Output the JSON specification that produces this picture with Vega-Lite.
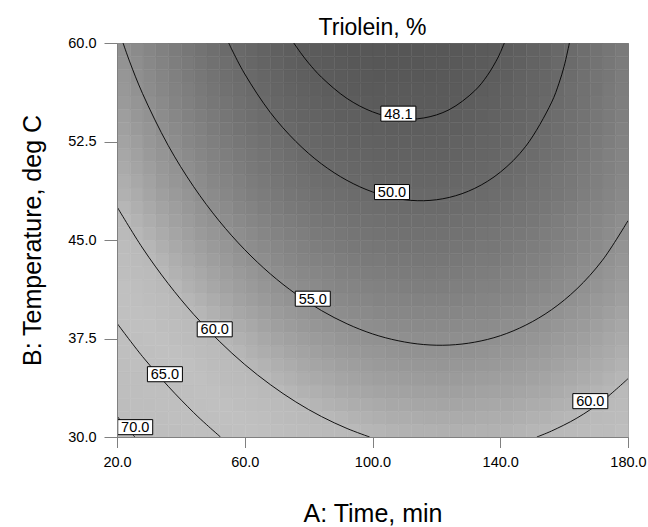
{
"$schema": "https://vega.github.io/schema/vega-lite/v6.json",
"width": 511, "height": 394,
"autosize": "none",
"padding": {"left": 117, "top": 43, "right": 20, "bottom": 90},
"background": "white",
"title": {"text": "Triolein, %", "font": "Liberation Sans", "fontSize": 23, "fontWeight": "normal", "color": "black", "anchor": "middle", "offset": -5},
"config": {
  "view": {"stroke": "#808080", "strokeWidth": 1},
  "axis": {"grid": false, "domainColor": "#808080", "tickColor": "#808080", "labelColor": "black", "labelFont": "Liberation Sans", "labelFontSize": 14.5, "titleFont": "Liberation Sans", "titleFontSize": 25, "titleFontWeight": "normal", "titleColor": "black", "format": ".1f", "labelPadding": 8, "labelFlush": false, "labelOverlap": false}
},
"datasets": {
"grid": [
{"A":20,"B":30,"v":70.4},{"A":24,"B":30,"v":69.5},{"A":28,"B":30,"v":68.7},{"A":32,"B":30,"v":67.9},{"A":36,"B":30,"v":67.1},{"A":40,"B":30,"v":66.4},{"A":44,"B":30,"v":65.7},{"A":48,"B":30,"v":65.0},{"A":52,"B":30,"v":64.4},{"A":56,"B":30,"v":63.8},{"A":60,"B":30,"v":63.2},{"A":64,"B":30,"v":62.7},{"A":68,"B":30,"v":62.2},{"A":72,"B":30,"v":61.7},{"A":76,"B":30,"v":61.3},{"A":80,"B":30,"v":60.9},{"A":84,"B":30,"v":60.6},{"A":88,"B":30,"v":60.3},{"A":92,"B":30,"v":60.0},{"A":96,"B":30,"v":59.7},{"A":100,"B":30,"v":59.5},{"A":104,"B":30,"v":59.3},{"A":108,"B":30,"v":59.2},{"A":112,"B":30,"v":59.1},{"A":116,"B":30,"v":59.0},{"A":120,"B":30,"v":58.9},{"A":124,"B":30,"v":58.9},{"A":128,"B":30,"v":59.0},{"A":132,"B":30,"v":59.0},{"A":136,"B":30,"v":59.1},{"A":140,"B":30,"v":59.2},{"A":144,"B":30,"v":59.4},{"A":148,"B":30,"v":59.6},{"A":152,"B":30,"v":59.8},{"A":156,"B":30,"v":60.1},{"A":160,"B":30,"v":60.4},{"A":164,"B":30,"v":60.7},{"A":168,"B":30,"v":61.1},{"A":172,"B":30,"v":61.5},{"A":176,"B":30,"v":62.0},
{"A":20,"B":31,"v":69.6},{"A":24,"B":31,"v":68.8},{"A":28,"B":31,"v":67.9},{"A":32,"B":31,"v":67.1},{"A":36,"B":31,"v":66.4},{"A":40,"B":31,"v":65.6},{"A":44,"B":31,"v":64.9},{"A":48,"B":31,"v":64.3},{"A":52,"B":31,"v":63.6},{"A":56,"B":31,"v":63.0},{"A":60,"B":31,"v":62.5},{"A":64,"B":31,"v":62.0},{"A":68,"B":31,"v":61.5},{"A":72,"B":31,"v":61.0},{"A":76,"B":31,"v":60.6},{"A":80,"B":31,"v":60.2},{"A":84,"B":31,"v":59.9},{"A":88,"B":31,"v":59.6},{"A":92,"B":31,"v":59.3},{"A":96,"B":31,"v":59.0},{"A":100,"B":31,"v":58.8},{"A":104,"B":31,"v":58.6},{"A":108,"B":31,"v":58.5},{"A":112,"B":31,"v":58.4},{"A":116,"B":31,"v":58.3},{"A":120,"B":31,"v":58.3},{"A":124,"B":31,"v":58.3},{"A":128,"B":31,"v":58.3},{"A":132,"B":31,"v":58.4},{"A":136,"B":31,"v":58.5},{"A":140,"B":31,"v":58.6},{"A":144,"B":31,"v":58.8},{"A":148,"B":31,"v":59.0},{"A":152,"B":31,"v":59.2},{"A":156,"B":31,"v":59.5},{"A":160,"B":31,"v":59.8},{"A":164,"B":31,"v":60.1},{"A":168,"B":31,"v":60.5},{"A":172,"B":31,"v":60.9},{"A":176,"B":31,"v":61.4},
{"A":20,"B":32,"v":68.9},{"A":24,"B":32,"v":68.0},{"A":28,"B":32,"v":67.2},{"A":32,"B":32,"v":66.4},{"A":36,"B":32,"v":65.6},{"A":40,"B":32,"v":64.9},{"A":44,"B":32,"v":64.2},{"A":48,"B":32,"v":63.5},{"A":52,"B":32,"v":62.9},{"A":56,"B":32,"v":62.3},{"A":60,"B":32,"v":61.8},{"A":64,"B":32,"v":61.3},{"A":68,"B":32,"v":60.8},{"A":72,"B":32,"v":60.3},{"A":76,"B":32,"v":59.9},{"A":80,"B":32,"v":59.5},{"A":84,"B":32,"v":59.2},{"A":88,"B":32,"v":58.9},{"A":92,"B":32,"v":58.6},{"A":96,"B":32,"v":58.4},{"A":100,"B":32,"v":58.2},{"A":104,"B":32,"v":58.0},{"A":108,"B":32,"v":57.9},{"A":112,"B":32,"v":57.7},{"A":116,"B":32,"v":57.7},{"A":120,"B":32,"v":57.6},{"A":124,"B":32,"v":57.6},{"A":128,"B":32,"v":57.7},{"A":132,"B":32,"v":57.8},{"A":136,"B":32,"v":57.9},{"A":140,"B":32,"v":58.0},{"A":144,"B":32,"v":58.2},{"A":148,"B":32,"v":58.4},{"A":152,"B":32,"v":58.6},{"A":156,"B":32,"v":58.9},{"A":160,"B":32,"v":59.2},{"A":164,"B":32,"v":59.6},{"A":168,"B":32,"v":59.9},{"A":172,"B":32,"v":60.4},{"A":176,"B":32,"v":60.8},
{"A":20,"B":33,"v":68.1},{"A":24,"B":33,"v":67.3},{"A":28,"B":33,"v":66.4},{"A":32,"B":33,"v":65.7},{"A":36,"B":33,"v":64.9},{"A":40,"B":33,"v":64.2},{"A":44,"B":33,"v":63.5},{"A":48,"B":33,"v":62.8},{"A":52,"B":33,"v":62.2},{"A":56,"B":33,"v":61.6},{"A":60,"B":33,"v":61.1},{"A":64,"B":33,"v":60.6},{"A":68,"B":33,"v":60.1},{"A":72,"B":33,"v":59.7},{"A":76,"B":33,"v":59.2},{"A":80,"B":33,"v":58.9},{"A":84,"B":33,"v":58.5},{"A":88,"B":33,"v":58.2},{"A":92,"B":33,"v":58.0},{"A":96,"B":33,"v":57.7},{"A":100,"B":33,"v":57.5},{"A":104,"B":33,"v":57.4},{"A":108,"B":33,"v":57.2},{"A":112,"B":33,"v":57.1},{"A":116,"B":33,"v":57.1},{"A":120,"B":33,"v":57.0},{"A":124,"B":33,"v":57.0},{"A":128,"B":33,"v":57.1},{"A":132,"B":33,"v":57.2},{"A":136,"B":33,"v":57.3},{"A":140,"B":33,"v":57.4},{"A":144,"B":33,"v":57.6},{"A":148,"B":33,"v":57.8},{"A":152,"B":33,"v":58.0},{"A":156,"B":33,"v":58.3},{"A":160,"B":33,"v":58.7},{"A":164,"B":33,"v":59.0},{"A":168,"B":33,"v":59.4},{"A":172,"B":33,"v":59.8},{"A":176,"B":33,"v":60.3},
{"A":20,"B":34,"v":67.4},{"A":24,"B":34,"v":66.5},{"A":28,"B":34,"v":65.7},{"A":32,"B":34,"v":64.9},{"A":36,"B":34,"v":64.2},{"A":40,"B":34,"v":63.5},{"A":44,"B":34,"v":62.8},{"A":48,"B":34,"v":62.1},{"A":52,"B":34,"v":61.5},{"A":56,"B":34,"v":61.0},{"A":60,"B":34,"v":60.4},{"A":64,"B":34,"v":59.9},{"A":68,"B":34,"v":59.4},{"A":72,"B":34,"v":59.0},{"A":76,"B":34,"v":58.6},{"A":80,"B":34,"v":58.2},{"A":84,"B":34,"v":57.9},{"A":88,"B":34,"v":57.6},{"A":92,"B":34,"v":57.3},{"A":96,"B":34,"v":57.1},{"A":100,"B":34,"v":56.9},{"A":104,"B":34,"v":56.7},{"A":108,"B":34,"v":56.6},{"A":112,"B":34,"v":56.5},{"A":116,"B":34,"v":56.4},{"A":120,"B":34,"v":56.4},{"A":124,"B":34,"v":56.4},{"A":128,"B":34,"v":56.5},{"A":132,"B":34,"v":56.6},{"A":136,"B":34,"v":56.7},{"A":140,"B":34,"v":56.8},{"A":144,"B":34,"v":57.0},{"A":148,"B":34,"v":57.2},{"A":152,"B":34,"v":57.5},{"A":156,"B":34,"v":57.8},{"A":160,"B":34,"v":58.1},{"A":164,"B":34,"v":58.4},{"A":168,"B":34,"v":58.8},{"A":172,"B":34,"v":59.3},{"A":176,"B":34,"v":59.7},
{"A":20,"B":35,"v":66.7},{"A":24,"B":35,"v":65.8},{"A":28,"B":35,"v":65.0},{"A":32,"B":35,"v":64.2},{"A":36,"B":35,"v":63.5},{"A":40,"B":35,"v":62.8},{"A":44,"B":35,"v":62.1},{"A":48,"B":35,"v":61.5},{"A":52,"B":35,"v":60.9},{"A":56,"B":35,"v":60.3},{"A":60,"B":35,"v":59.8},{"A":64,"B":35,"v":59.3},{"A":68,"B":35,"v":58.8},{"A":72,"B":35,"v":58.4},{"A":76,"B":35,"v":58.0},{"A":80,"B":35,"v":57.6},{"A":84,"B":35,"v":57.3},{"A":88,"B":35,"v":57.0},{"A":92,"B":35,"v":56.7},{"A":96,"B":35,"v":56.5},{"A":100,"B":35,"v":56.3},{"A":104,"B":35,"v":56.1},{"A":108,"B":35,"v":56.0},{"A":112,"B":35,"v":55.9},{"A":116,"B":35,"v":55.9},{"A":120,"B":35,"v":55.8},{"A":124,"B":35,"v":55.9},{"A":128,"B":35,"v":55.9},{"A":132,"B":35,"v":56.0},{"A":136,"B":35,"v":56.1},{"A":140,"B":35,"v":56.3},{"A":144,"B":35,"v":56.5},{"A":148,"B":35,"v":56.7},{"A":152,"B":35,"v":56.9},{"A":156,"B":35,"v":57.2},{"A":160,"B":35,"v":57.6},{"A":164,"B":35,"v":57.9},{"A":168,"B":35,"v":58.3},{"A":172,"B":35,"v":58.7},{"A":176,"B":35,"v":59.2},
{"A":20,"B":36,"v":66.0},{"A":24,"B":36,"v":65.2},{"A":28,"B":36,"v":64.4},{"A":32,"B":36,"v":63.6},{"A":36,"B":36,"v":62.8},{"A":40,"B":36,"v":62.1},{"A":44,"B":36,"v":61.5},{"A":48,"B":36,"v":60.8},{"A":52,"B":36,"v":60.2},{"A":56,"B":36,"v":59.7},{"A":60,"B":36,"v":59.1},{"A":64,"B":36,"v":58.6},{"A":68,"B":36,"v":58.2},{"A":72,"B":36,"v":57.7},{"A":76,"B":36,"v":57.3},{"A":80,"B":36,"v":57.0},{"A":84,"B":36,"v":56.6},{"A":88,"B":36,"v":56.4},{"A":92,"B":36,"v":56.1},{"A":96,"B":36,"v":55.9},{"A":100,"B":36,"v":55.7},{"A":104,"B":36,"v":55.5},{"A":108,"B":36,"v":55.4},{"A":112,"B":36,"v":55.3},{"A":116,"B":36,"v":55.3},{"A":120,"B":36,"v":55.3},{"A":124,"B":36,"v":55.3},{"A":128,"B":36,"v":55.3},{"A":132,"B":36,"v":55.4},{"A":136,"B":36,"v":55.6},{"A":140,"B":36,"v":55.7},{"A":144,"B":36,"v":55.9},{"A":148,"B":36,"v":56.1},{"A":152,"B":36,"v":56.4},{"A":156,"B":36,"v":56.7},{"A":160,"B":36,"v":57.0},{"A":164,"B":36,"v":57.4},{"A":168,"B":36,"v":57.8},{"A":172,"B":36,"v":58.2},{"A":176,"B":36,"v":58.7},
{"A":20,"B":37,"v":65.3},{"A":24,"B":37,"v":64.5},{"A":28,"B":37,"v":63.7},{"A":32,"B":37,"v":62.9},{"A":36,"B":37,"v":62.2},{"A":40,"B":37,"v":61.5},{"A":44,"B":37,"v":60.8},{"A":48,"B":37,"v":60.2},{"A":52,"B":37,"v":59.6},{"A":56,"B":37,"v":59.0},{"A":60,"B":37,"v":58.5},{"A":64,"B":37,"v":58.0},{"A":68,"B":37,"v":57.5},{"A":72,"B":37,"v":57.1},{"A":76,"B":37,"v":56.7},{"A":80,"B":37,"v":56.4},{"A":84,"B":37,"v":56.1},{"A":88,"B":37,"v":55.8},{"A":92,"B":37,"v":55.5},{"A":96,"B":37,"v":55.3},{"A":100,"B":37,"v":55.1},{"A":104,"B":37,"v":55.0},{"A":108,"B":37,"v":54.9},{"A":112,"B":37,"v":54.8},{"A":116,"B":37,"v":54.7},{"A":120,"B":37,"v":54.7},{"A":124,"B":37,"v":54.8},{"A":128,"B":37,"v":54.8},{"A":132,"B":37,"v":54.9},{"A":136,"B":37,"v":55.0},{"A":140,"B":37,"v":55.2},{"A":144,"B":37,"v":55.4},{"A":148,"B":37,"v":55.6},{"A":152,"B":37,"v":55.9},{"A":156,"B":37,"v":56.2},{"A":160,"B":37,"v":56.5},{"A":164,"B":37,"v":56.9},{"A":168,"B":37,"v":57.3},{"A":172,"B":37,"v":57.8},{"A":176,"B":37,"v":58.2},
{"A":20,"B":38,"v":64.7},{"A":24,"B":38,"v":63.8},{"A":28,"B":38,"v":63.1},{"A":32,"B":38,"v":62.3},{"A":36,"B":38,"v":61.6},{"A":40,"B":38,"v":60.9},{"A":44,"B":38,"v":60.2},{"A":48,"B":38,"v":59.6},{"A":52,"B":38,"v":59.0},{"A":56,"B":38,"v":58.4},{"A":60,"B":38,"v":57.9},{"A":64,"B":38,"v":57.4},{"A":68,"B":38,"v":56.9},{"A":72,"B":38,"v":56.5},{"A":76,"B":38,"v":56.1},{"A":80,"B":38,"v":55.8},{"A":84,"B":38,"v":55.5},{"A":88,"B":38,"v":55.2},{"A":92,"B":38,"v":55.0},{"A":96,"B":38,"v":54.7},{"A":100,"B":38,"v":54.6},{"A":104,"B":38,"v":54.4},{"A":108,"B":38,"v":54.3},{"A":112,"B":38,"v":54.2},{"A":116,"B":38,"v":54.2},{"A":120,"B":38,"v":54.2},{"A":124,"B":38,"v":54.2},{"A":128,"B":38,"v":54.3},{"A":132,"B":38,"v":54.4},{"A":136,"B":38,"v":54.5},{"A":140,"B":38,"v":54.7},{"A":144,"B":38,"v":54.9},{"A":148,"B":38,"v":55.1},{"A":152,"B":38,"v":55.4},{"A":156,"B":38,"v":55.7},{"A":160,"B":38,"v":56.1},{"A":164,"B":38,"v":56.4},{"A":168,"B":38,"v":56.9},{"A":172,"B":38,"v":57.3},{"A":176,"B":38,"v":57.8},
{"A":20,"B":39,"v":64.0},{"A":24,"B":39,"v":63.2},{"A":28,"B":39,"v":62.4},{"A":32,"B":39,"v":61.7},{"A":36,"B":39,"v":60.9},{"A":40,"B":39,"v":60.2},{"A":44,"B":39,"v":59.6},{"A":48,"B":39,"v":59.0},{"A":52,"B":39,"v":58.4},{"A":56,"B":39,"v":57.8},{"A":60,"B":39,"v":57.3},{"A":64,"B":39,"v":56.8},{"A":68,"B":39,"v":56.4},{"A":72,"B":39,"v":56.0},{"A":76,"B":39,"v":55.6},{"A":80,"B":39,"v":55.2},{"A":84,"B":39,"v":54.9},{"A":88,"B":39,"v":54.6},{"A":92,"B":39,"v":54.4},{"A":96,"B":39,"v":54.2},{"A":100,"B":39,"v":54.0},{"A":104,"B":39,"v":53.9},{"A":108,"B":39,"v":53.8},{"A":112,"B":39,"v":53.7},{"A":116,"B":39,"v":53.7},{"A":120,"B":39,"v":53.7},{"A":124,"B":39,"v":53.7},{"A":128,"B":39,"v":53.8},{"A":132,"B":39,"v":53.9},{"A":136,"B":39,"v":54.0},{"A":140,"B":39,"v":54.2},{"A":144,"B":39,"v":54.4},{"A":148,"B":39,"v":54.7},{"A":152,"B":39,"v":54.9},{"A":156,"B":39,"v":55.3},{"A":160,"B":39,"v":55.6},{"A":164,"B":39,"v":56.0},{"A":168,"B":39,"v":56.4},{"A":172,"B":39,"v":56.8},{"A":176,"B":39,"v":57.3},
{"A":20,"B":40,"v":63.4},{"A":24,"B":40,"v":62.6},{"A":28,"B":40,"v":61.8},{"A":32,"B":40,"v":61.1},{"A":36,"B":40,"v":60.3},{"A":40,"B":40,"v":59.6},{"A":44,"B":40,"v":59.0},{"A":48,"B":40,"v":58.4},{"A":52,"B":40,"v":57.8},{"A":56,"B":40,"v":57.2},{"A":60,"B":40,"v":56.7},{"A":64,"B":40,"v":56.3},{"A":68,"B":40,"v":55.8},{"A":72,"B":40,"v":55.4},{"A":76,"B":40,"v":55.0},{"A":80,"B":40,"v":54.7},{"A":84,"B":40,"v":54.4},{"A":88,"B":40,"v":54.1},{"A":92,"B":40,"v":53.9},{"A":96,"B":40,"v":53.7},{"A":100,"B":40,"v":53.5},{"A":104,"B":40,"v":53.4},{"A":108,"B":40,"v":53.3},{"A":112,"B":40,"v":53.2},{"A":116,"B":40,"v":53.2},{"A":120,"B":40,"v":53.2},{"A":124,"B":40,"v":53.2},{"A":128,"B":40,"v":53.3},{"A":132,"B":40,"v":53.4},{"A":136,"B":40,"v":53.6},{"A":140,"B":40,"v":53.7},{"A":144,"B":40,"v":53.9},{"A":148,"B":40,"v":54.2},{"A":152,"B":40,"v":54.5},{"A":156,"B":40,"v":54.8},{"A":160,"B":40,"v":55.1},{"A":164,"B":40,"v":55.5},{"A":168,"B":40,"v":56.0},{"A":172,"B":40,"v":56.4},{"A":176,"B":40,"v":56.9},
{"A":20,"B":41,"v":62.8},{"A":24,"B":41,"v":62.0},{"A":28,"B":41,"v":61.2},{"A":32,"B":41,"v":60.5},{"A":36,"B":41,"v":59.8},{"A":40,"B":41,"v":59.1},{"A":44,"B":41,"v":58.4},{"A":48,"B":41,"v":57.8},{"A":52,"B":41,"v":57.2},{"A":56,"B":41,"v":56.7},{"A":60,"B":41,"v":56.2},{"A":64,"B":41,"v":55.7},{"A":68,"B":41,"v":55.3},{"A":72,"B":41,"v":54.9},{"A":76,"B":41,"v":54.5},{"A":80,"B":41,"v":54.2},{"A":84,"B":41,"v":53.9},{"A":88,"B":41,"v":53.6},{"A":92,"B":41,"v":53.4},{"A":96,"B":41,"v":53.2},{"A":100,"B":41,"v":53.0},{"A":104,"B":41,"v":52.9},{"A":108,"B":41,"v":52.8},{"A":112,"B":41,"v":52.7},{"A":116,"B":41,"v":52.7},{"A":120,"B":41,"v":52.7},{"A":124,"B":41,"v":52.8},{"A":128,"B":41,"v":52.8},{"A":132,"B":41,"v":53.0},{"A":136,"B":41,"v":53.1},{"A":140,"B":41,"v":53.3},{"A":144,"B":41,"v":53.5},{"A":148,"B":41,"v":53.8},{"A":152,"B":41,"v":54.0},{"A":156,"B":41,"v":54.4},{"A":160,"B":41,"v":54.7},{"A":164,"B":41,"v":55.1},{"A":168,"B":41,"v":55.5},{"A":172,"B":41,"v":56.0},{"A":176,"B":41,"v":56.5},
{"A":20,"B":42,"v":62.2},{"A":24,"B":42,"v":61.4},{"A":28,"B":42,"v":60.7},{"A":32,"B":42,"v":59.9},{"A":36,"B":42,"v":59.2},{"A":40,"B":42,"v":58.5},{"A":44,"B":42,"v":57.9},{"A":48,"B":42,"v":57.3},{"A":52,"B":42,"v":56.7},{"A":56,"B":42,"v":56.2},{"A":60,"B":42,"v":55.7},{"A":64,"B":42,"v":55.2},{"A":68,"B":42,"v":54.8},{"A":72,"B":42,"v":54.4},{"A":76,"B":42,"v":54.0},{"A":80,"B":42,"v":53.7},{"A":84,"B":42,"v":53.4},{"A":88,"B":42,"v":53.1},{"A":92,"B":42,"v":52.9},{"A":96,"B":42,"v":52.7},{"A":100,"B":42,"v":52.5},{"A":104,"B":42,"v":52.4},{"A":108,"B":42,"v":52.3},{"A":112,"B":42,"v":52.3},{"A":116,"B":42,"v":52.2},{"A":120,"B":42,"v":52.3},{"A":124,"B":42,"v":52.3},{"A":128,"B":42,"v":52.4},{"A":132,"B":42,"v":52.5},{"A":136,"B":42,"v":52.7},{"A":140,"B":42,"v":52.9},{"A":144,"B":42,"v":53.1},{"A":148,"B":42,"v":53.3},{"A":152,"B":42,"v":53.6},{"A":156,"B":42,"v":54.0},{"A":160,"B":42,"v":54.3},{"A":164,"B":42,"v":54.7},{"A":168,"B":42,"v":55.1},{"A":172,"B":42,"v":55.6},{"A":176,"B":42,"v":56.1},
{"A":20,"B":43,"v":61.7},{"A":24,"B":43,"v":60.9},{"A":28,"B":43,"v":60.1},{"A":32,"B":43,"v":59.4},{"A":36,"B":43,"v":58.7},{"A":40,"B":43,"v":58.0},{"A":44,"B":43,"v":57.3},{"A":48,"B":43,"v":56.7},{"A":52,"B":43,"v":56.2},{"A":56,"B":43,"v":55.6},{"A":60,"B":43,"v":55.1},{"A":64,"B":43,"v":54.7},{"A":68,"B":43,"v":54.2},{"A":72,"B":43,"v":53.9},{"A":76,"B":43,"v":53.5},{"A":80,"B":43,"v":53.2},{"A":84,"B":43,"v":52.9},{"A":88,"B":43,"v":52.6},{"A":92,"B":43,"v":52.4},{"A":96,"B":43,"v":52.2},{"A":100,"B":43,"v":52.1},{"A":104,"B":43,"v":51.9},{"A":108,"B":43,"v":51.9},{"A":112,"B":43,"v":51.8},{"A":116,"B":43,"v":51.8},{"A":120,"B":43,"v":51.8},{"A":124,"B":43,"v":51.9},{"A":128,"B":43,"v":52.0},{"A":132,"B":43,"v":52.1},{"A":136,"B":43,"v":52.2},{"A":140,"B":43,"v":52.4},{"A":144,"B":43,"v":52.7},{"A":148,"B":43,"v":52.9},{"A":152,"B":43,"v":53.2},{"A":156,"B":43,"v":53.6},{"A":160,"B":43,"v":53.9},{"A":164,"B":43,"v":54.3},{"A":168,"B":43,"v":54.8},{"A":172,"B":43,"v":55.2},{"A":176,"B":43,"v":55.7},
{"A":20,"B":44,"v":61.1},{"A":24,"B":44,"v":60.3},{"A":28,"B":44,"v":59.6},{"A":32,"B":44,"v":58.8},{"A":36,"B":44,"v":58.1},{"A":40,"B":44,"v":57.5},{"A":44,"B":44,"v":56.8},{"A":48,"B":44,"v":56.2},{"A":52,"B":44,"v":55.7},{"A":56,"B":44,"v":55.1},{"A":60,"B":44,"v":54.6},{"A":64,"B":44,"v":54.2},{"A":68,"B":44,"v":53.8},{"A":72,"B":44,"v":53.4},{"A":76,"B":44,"v":53.0},{"A":80,"B":44,"v":52.7},{"A":84,"B":44,"v":52.4},{"A":88,"B":44,"v":52.2},{"A":92,"B":44,"v":51.9},{"A":96,"B":44,"v":51.8},{"A":100,"B":44,"v":51.6},{"A":104,"B":44,"v":51.5},{"A":108,"B":44,"v":51.4},{"A":112,"B":44,"v":51.4},{"A":116,"B":44,"v":51.4},{"A":120,"B":44,"v":51.4},{"A":124,"B":44,"v":51.5},{"A":128,"B":44,"v":51.5},{"A":132,"B":44,"v":51.7},{"A":136,"B":44,"v":51.8},{"A":140,"B":44,"v":52.0},{"A":144,"B":44,"v":52.3},{"A":148,"B":44,"v":52.5},{"A":152,"B":44,"v":52.8},{"A":156,"B":44,"v":53.2},{"A":160,"B":44,"v":53.6},{"A":164,"B":44,"v":54.0},{"A":168,"B":44,"v":54.4},{"A":172,"B":44,"v":54.9},{"A":176,"B":44,"v":55.4},
{"A":20,"B":45,"v":60.6},{"A":24,"B":45,"v":59.8},{"A":28,"B":45,"v":59.0},{"A":32,"B":45,"v":58.3},{"A":36,"B":45,"v":57.6},{"A":40,"B":45,"v":57.0},{"A":44,"B":45,"v":56.3},{"A":48,"B":45,"v":55.7},{"A":52,"B":45,"v":55.2},{"A":56,"B":45,"v":54.7},{"A":60,"B":45,"v":54.2},{"A":64,"B":45,"v":53.7},{"A":68,"B":45,"v":53.3},{"A":72,"B":45,"v":52.9},{"A":76,"B":45,"v":52.6},{"A":80,"B":45,"v":52.2},{"A":84,"B":45,"v":52.0},{"A":88,"B":45,"v":51.7},{"A":92,"B":45,"v":51.5},{"A":96,"B":45,"v":51.3},{"A":100,"B":45,"v":51.2},{"A":104,"B":45,"v":51.1},{"A":108,"B":45,"v":51.0},{"A":112,"B":45,"v":51.0},{"A":116,"B":45,"v":51.0},{"A":120,"B":45,"v":51.0},{"A":124,"B":45,"v":51.1},{"A":128,"B":45,"v":51.1},{"A":132,"B":45,"v":51.3},{"A":136,"B":45,"v":51.5},{"A":140,"B":45,"v":51.7},{"A":144,"B":45,"v":51.9},{"A":148,"B":45,"v":52.2},{"A":152,"B":45,"v":52.5},{"A":156,"B":45,"v":52.8},{"A":160,"B":45,"v":53.2},{"A":164,"B":45,"v":53.6},{"A":168,"B":45,"v":54.0},{"A":172,"B":45,"v":54.5},{"A":176,"B":45,"v":55.0},
{"A":20,"B":46,"v":60.1},{"A":24,"B":46,"v":59.3},{"A":28,"B":46,"v":58.5},{"A":32,"B":46,"v":57.8},{"A":36,"B":46,"v":57.1},{"A":40,"B":46,"v":56.5},{"A":44,"B":46,"v":55.8},{"A":48,"B":46,"v":55.3},{"A":52,"B":46,"v":54.7},{"A":56,"B":46,"v":54.2},{"A":60,"B":46,"v":53.7},{"A":64,"B":46,"v":53.3},{"A":68,"B":46,"v":52.8},{"A":72,"B":46,"v":52.5},{"A":76,"B":46,"v":52.1},{"A":80,"B":46,"v":51.8},{"A":84,"B":46,"v":51.5},{"A":88,"B":46,"v":51.3},{"A":92,"B":46,"v":51.1},{"A":96,"B":46,"v":50.9},{"A":100,"B":46,"v":50.8},{"A":104,"B":46,"v":50.7},{"A":108,"B":46,"v":50.6},{"A":112,"B":46,"v":50.6},{"A":116,"B":46,"v":50.6},{"A":120,"B":46,"v":50.6},{"A":124,"B":46,"v":50.7},{"A":128,"B":46,"v":50.8},{"A":132,"B":46,"v":50.9},{"A":136,"B":46,"v":51.1},{"A":140,"B":46,"v":51.3},{"A":144,"B":46,"v":51.5},{"A":148,"B":46,"v":51.8},{"A":152,"B":46,"v":52.1},{"A":156,"B":46,"v":52.5},{"A":160,"B":46,"v":52.9},{"A":164,"B":46,"v":53.3},{"A":168,"B":46,"v":53.7},{"A":172,"B":46,"v":54.2},{"A":176,"B":46,"v":54.7},
{"A":20,"B":47,"v":59.6},{"A":24,"B":47,"v":58.8},{"A":28,"B":47,"v":58.1},{"A":32,"B":47,"v":57.3},{"A":36,"B":47,"v":56.7},{"A":40,"B":47,"v":56.0},{"A":44,"B":47,"v":55.4},{"A":48,"B":47,"v":54.8},{"A":52,"B":47,"v":54.3},{"A":56,"B":47,"v":53.7},{"A":60,"B":47,"v":53.3},{"A":64,"B":47,"v":52.8},{"A":68,"B":47,"v":52.4},{"A":72,"B":47,"v":52.0},{"A":76,"B":47,"v":51.7},{"A":80,"B":47,"v":51.4},{"A":84,"B":47,"v":51.1},{"A":88,"B":47,"v":50.9},{"A":92,"B":47,"v":50.7},{"A":96,"B":47,"v":50.5},{"A":100,"B":47,"v":50.4},{"A":104,"B":47,"v":50.3},{"A":108,"B":47,"v":50.2},{"A":112,"B":47,"v":50.2},{"A":116,"B":47,"v":50.2},{"A":120,"B":47,"v":50.2},{"A":124,"B":47,"v":50.3},{"A":128,"B":47,"v":50.4},{"A":132,"B":47,"v":50.6},{"A":136,"B":47,"v":50.7},{"A":140,"B":47,"v":51.0},{"A":144,"B":47,"v":51.2},{"A":148,"B":47,"v":51.5},{"A":152,"B":47,"v":51.8},{"A":156,"B":47,"v":52.2},{"A":160,"B":47,"v":52.5},{"A":164,"B":47,"v":53.0},{"A":168,"B":47,"v":53.4},{"A":172,"B":47,"v":53.9},{"A":176,"B":47,"v":54.4},
{"A":20,"B":48,"v":59.1},{"A":24,"B":48,"v":58.4},{"A":28,"B":48,"v":57.6},{"A":32,"B":48,"v":56.9},{"A":36,"B":48,"v":56.2},{"A":40,"B":48,"v":55.6},{"A":44,"B":48,"v":54.9},{"A":48,"B":48,"v":54.4},{"A":52,"B":48,"v":53.8},{"A":56,"B":48,"v":53.3},{"A":60,"B":48,"v":52.8},{"A":64,"B":48,"v":52.4},{"A":68,"B":48,"v":52.0},{"A":72,"B":48,"v":51.6},{"A":76,"B":48,"v":51.3},{"A":80,"B":48,"v":51.0},{"A":84,"B":48,"v":50.7},{"A":88,"B":48,"v":50.5},{"A":92,"B":48,"v":50.3},{"A":96,"B":48,"v":50.1},{"A":100,"B":48,"v":50.0},{"A":104,"B":48,"v":49.9},{"A":108,"B":48,"v":49.9},{"A":112,"B":48,"v":49.8},{"A":116,"B":48,"v":49.8},{"A":120,"B":48,"v":49.9},{"A":124,"B":48,"v":50.0},{"A":128,"B":48,"v":50.1},{"A":132,"B":48,"v":50.2},{"A":136,"B":48,"v":50.4},{"A":140,"B":48,"v":50.6},{"A":144,"B":48,"v":50.9},{"A":148,"B":48,"v":51.2},{"A":152,"B":48,"v":51.5},{"A":156,"B":48,"v":51.8},{"A":160,"B":48,"v":52.2},{"A":164,"B":48,"v":52.7},{"A":168,"B":48,"v":53.1},{"A":172,"B":48,"v":53.6},{"A":176,"B":48,"v":54.1},
{"A":20,"B":49,"v":58.7},{"A":24,"B":49,"v":57.9},{"A":28,"B":49,"v":57.2},{"A":32,"B":49,"v":56.4},{"A":36,"B":49,"v":55.8},{"A":40,"B":49,"v":55.1},{"A":44,"B":49,"v":54.5},{"A":48,"B":49,"v":53.9},{"A":52,"B":49,"v":53.4},{"A":56,"B":49,"v":52.9},{"A":60,"B":49,"v":52.4},{"A":64,"B":49,"v":52.0},{"A":68,"B":49,"v":51.6},{"A":72,"B":49,"v":51.2},{"A":76,"B":49,"v":50.9},{"A":80,"B":49,"v":50.6},{"A":84,"B":49,"v":50.3},{"A":88,"B":49,"v":50.1},{"A":92,"B":49,"v":49.9},{"A":96,"B":49,"v":49.8},{"A":100,"B":49,"v":49.6},{"A":104,"B":49,"v":49.6},{"A":108,"B":49,"v":49.5},{"A":112,"B":49,"v":49.5},{"A":116,"B":49,"v":49.5},{"A":120,"B":49,"v":49.5},{"A":124,"B":49,"v":49.6},{"A":128,"B":49,"v":49.7},{"A":132,"B":49,"v":49.9},{"A":136,"B":49,"v":50.1},{"A":140,"B":49,"v":50.3},{"A":144,"B":49,"v":50.6},{"A":148,"B":49,"v":50.9},{"A":152,"B":49,"v":51.2},{"A":156,"B":49,"v":51.6},{"A":160,"B":49,"v":51.9},{"A":164,"B":49,"v":52.4},{"A":168,"B":49,"v":52.8},{"A":172,"B":49,"v":53.3},{"A":176,"B":49,"v":53.9},
{"A":20,"B":50,"v":58.2},{"A":24,"B":50,"v":57.5},{"A":28,"B":50,"v":56.7},{"A":32,"B":50,"v":56.0},{"A":36,"B":50,"v":55.4},{"A":40,"B":50,"v":54.7},{"A":44,"B":50,"v":54.1},{"A":48,"B":50,"v":53.5},{"A":52,"B":50,"v":53.0},{"A":56,"B":50,"v":52.5},{"A":60,"B":50,"v":52.0},{"A":64,"B":50,"v":51.6},{"A":68,"B":50,"v":51.2},{"A":72,"B":50,"v":50.9},{"A":76,"B":50,"v":50.5},{"A":80,"B":50,"v":50.2},{"A":84,"B":50,"v":50.0},{"A":88,"B":50,"v":49.8},{"A":92,"B":50,"v":49.6},{"A":96,"B":50,"v":49.4},{"A":100,"B":50,"v":49.3},{"A":104,"B":50,"v":49.2},{"A":108,"B":50,"v":49.2},{"A":112,"B":50,"v":49.2},{"A":116,"B":50,"v":49.2},{"A":120,"B":50,"v":49.2},{"A":124,"B":50,"v":49.3},{"A":128,"B":50,"v":49.4},{"A":132,"B":50,"v":49.6},{"A":136,"B":50,"v":49.8},{"A":140,"B":50,"v":50.0},{"A":144,"B":50,"v":50.3},{"A":148,"B":50,"v":50.6},{"A":152,"B":50,"v":50.9},{"A":156,"B":50,"v":51.3},{"A":160,"B":50,"v":51.7},{"A":164,"B":50,"v":52.1},{"A":168,"B":50,"v":52.6},{"A":172,"B":50,"v":53.1},{"A":176,"B":50,"v":53.6},
{"A":20,"B":51,"v":57.8},{"A":24,"B":51,"v":57.1},{"A":28,"B":51,"v":56.3},{"A":32,"B":51,"v":55.6},{"A":36,"B":51,"v":55.0},{"A":40,"B":51,"v":54.3},{"A":44,"B":51,"v":53.7},{"A":48,"B":51,"v":53.2},{"A":52,"B":51,"v":52.6},{"A":56,"B":51,"v":52.1},{"A":60,"B":51,"v":51.7},{"A":64,"B":51,"v":51.3},{"A":68,"B":51,"v":50.9},{"A":72,"B":51,"v":50.5},{"A":76,"B":51,"v":50.2},{"A":80,"B":51,"v":49.9},{"A":84,"B":51,"v":49.6},{"A":88,"B":51,"v":49.4},{"A":92,"B":51,"v":49.3},{"A":96,"B":51,"v":49.1},{"A":100,"B":51,"v":49.0},{"A":104,"B":51,"v":48.9},{"A":108,"B":51,"v":48.9},{"A":112,"B":51,"v":48.9},{"A":116,"B":51,"v":48.9},{"A":120,"B":51,"v":48.9},{"A":124,"B":51,"v":49.0},{"A":128,"B":51,"v":49.2},{"A":132,"B":51,"v":49.3},{"A":136,"B":51,"v":49.5},{"A":140,"B":51,"v":49.8},{"A":144,"B":51,"v":50.0},{"A":148,"B":51,"v":50.3},{"A":152,"B":51,"v":50.7},{"A":156,"B":51,"v":51.0},{"A":160,"B":51,"v":51.4},{"A":164,"B":51,"v":51.9},{"A":168,"B":51,"v":52.4},{"A":172,"B":51,"v":52.9},{"A":176,"B":51,"v":53.4},
{"A":20,"B":52,"v":57.4},{"A":24,"B":52,"v":56.7},{"A":28,"B":52,"v":55.9},{"A":32,"B":52,"v":55.2},{"A":36,"B":52,"v":54.6},{"A":40,"B":52,"v":53.9},{"A":44,"B":52,"v":53.3},{"A":48,"B":52,"v":52.8},{"A":52,"B":52,"v":52.3},{"A":56,"B":52,"v":51.8},{"A":60,"B":52,"v":51.3},{"A":64,"B":52,"v":50.9},{"A":68,"B":52,"v":50.5},{"A":72,"B":52,"v":50.2},{"A":76,"B":52,"v":49.8},{"A":80,"B":52,"v":49.6},{"A":84,"B":52,"v":49.3},{"A":88,"B":52,"v":49.1},{"A":92,"B":52,"v":48.9},{"A":96,"B":52,"v":48.8},{"A":100,"B":52,"v":48.7},{"A":104,"B":52,"v":48.6},{"A":108,"B":52,"v":48.6},{"A":112,"B":52,"v":48.6},{"A":116,"B":52,"v":48.6},{"A":120,"B":52,"v":48.6},{"A":124,"B":52,"v":48.8},{"A":128,"B":52,"v":48.9},{"A":132,"B":52,"v":49.1},{"A":136,"B":52,"v":49.3},{"A":140,"B":52,"v":49.5},{"A":144,"B":52,"v":49.8},{"A":148,"B":52,"v":50.1},{"A":152,"B":52,"v":50.4},{"A":156,"B":52,"v":50.8},{"A":160,"B":52,"v":51.2},{"A":164,"B":52,"v":51.6},{"A":168,"B":52,"v":52.1},{"A":172,"B":52,"v":52.6},{"A":176,"B":52,"v":53.2},
{"A":20,"B":53,"v":57.0},{"A":24,"B":53,"v":56.3},{"A":28,"B":53,"v":55.6},{"A":32,"B":53,"v":54.9},{"A":36,"B":53,"v":54.2},{"A":40,"B":53,"v":53.6},{"A":44,"B":53,"v":53.0},{"A":48,"B":53,"v":52.4},{"A":52,"B":53,"v":51.9},{"A":56,"B":53,"v":51.4},{"A":60,"B":53,"v":51.0},{"A":64,"B":53,"v":50.6},{"A":68,"B":53,"v":50.2},{"A":72,"B":53,"v":49.8},{"A":76,"B":53,"v":49.5},{"A":80,"B":53,"v":49.3},{"A":84,"B":53,"v":49.0},{"A":88,"B":53,"v":48.8},{"A":92,"B":53,"v":48.6},{"A":96,"B":53,"v":48.5},{"A":100,"B":53,"v":48.4},{"A":104,"B":53,"v":48.3},{"A":108,"B":53,"v":48.3},{"A":112,"B":53,"v":48.3},{"A":116,"B":53,"v":48.3},{"A":120,"B":53,"v":48.4},{"A":124,"B":53,"v":48.5},{"A":128,"B":53,"v":48.6},{"A":132,"B":53,"v":48.8},{"A":136,"B":53,"v":49.0},{"A":140,"B":53,"v":49.3},{"A":144,"B":53,"v":49.5},{"A":148,"B":53,"v":49.8},{"A":152,"B":53,"v":50.2},{"A":156,"B":53,"v":50.6},{"A":160,"B":53,"v":51.0},{"A":164,"B":53,"v":51.4},{"A":168,"B":53,"v":51.9},{"A":172,"B":53,"v":52.4},{"A":176,"B":53,"v":53.0},
{"A":20,"B":54,"v":56.7},{"A":24,"B":54,"v":55.9},{"A":28,"B":54,"v":55.2},{"A":32,"B":54,"v":54.5},{"A":36,"B":54,"v":53.9},{"A":40,"B":54,"v":53.2},{"A":44,"B":54,"v":52.7},{"A":48,"B":54,"v":52.1},{"A":52,"B":54,"v":51.6},{"A":56,"B":54,"v":51.1},{"A":60,"B":54,"v":50.7},{"A":64,"B":54,"v":50.3},{"A":68,"B":54,"v":49.9},{"A":72,"B":54,"v":49.5},{"A":76,"B":54,"v":49.2},{"A":80,"B":54,"v":49.0},{"A":84,"B":54,"v":48.7},{"A":88,"B":54,"v":48.5},{"A":92,"B":54,"v":48.4},{"A":96,"B":54,"v":48.2},{"A":100,"B":54,"v":48.1},{"A":104,"B":54,"v":48.1},{"A":108,"B":54,"v":48.0},{"A":112,"B":54,"v":48.0},{"A":116,"B":54,"v":48.1},{"A":120,"B":54,"v":48.1},{"A":124,"B":54,"v":48.3},{"A":128,"B":54,"v":48.4},{"A":132,"B":54,"v":48.6},{"A":136,"B":54,"v":48.8},{"A":140,"B":54,"v":49.0},{"A":144,"B":54,"v":49.3},{"A":148,"B":54,"v":49.6},{"A":152,"B":54,"v":50.0},{"A":156,"B":54,"v":50.4},{"A":160,"B":54,"v":50.8},{"A":164,"B":54,"v":51.2},{"A":168,"B":54,"v":51.7},{"A":172,"B":54,"v":52.3},{"A":176,"B":54,"v":52.8},
{"A":20,"B":55,"v":56.3},{"A":24,"B":55,"v":55.6},{"A":28,"B":55,"v":54.9},{"A":32,"B":55,"v":54.2},{"A":36,"B":55,"v":53.5},{"A":40,"B":55,"v":52.9},{"A":44,"B":55,"v":52.3},{"A":48,"B":55,"v":51.8},{"A":52,"B":55,"v":51.3},{"A":56,"B":55,"v":50.8},{"A":60,"B":55,"v":50.4},{"A":64,"B":55,"v":50.0},{"A":68,"B":55,"v":49.6},{"A":72,"B":55,"v":49.3},{"A":76,"B":55,"v":49.0},{"A":80,"B":55,"v":48.7},{"A":84,"B":55,"v":48.5},{"A":88,"B":55,"v":48.3},{"A":92,"B":55,"v":48.1},{"A":96,"B":55,"v":48.0},{"A":100,"B":55,"v":47.9},{"A":104,"B":55,"v":47.8},{"A":108,"B":55,"v":47.8},{"A":112,"B":55,"v":47.8},{"A":116,"B":55,"v":47.8},{"A":120,"B":55,"v":47.9},{"A":124,"B":55,"v":48.0},{"A":128,"B":55,"v":48.2},{"A":132,"B":55,"v":48.4},{"A":136,"B":55,"v":48.6},{"A":140,"B":55,"v":48.8},{"A":144,"B":55,"v":49.1},{"A":148,"B":55,"v":49.4},{"A":152,"B":55,"v":49.8},{"A":156,"B":55,"v":50.2},{"A":160,"B":55,"v":50.6},{"A":164,"B":55,"v":51.1},{"A":168,"B":55,"v":51.6},{"A":172,"B":55,"v":52.1},{"A":176,"B":55,"v":52.7},
{"A":20,"B":56,"v":56.0},{"A":24,"B":56,"v":55.3},{"A":28,"B":56,"v":54.5},{"A":32,"B":56,"v":53.9},{"A":36,"B":56,"v":53.2},{"A":40,"B":56,"v":52.6},{"A":44,"B":56,"v":52.0},{"A":48,"B":56,"v":51.5},{"A":52,"B":56,"v":51.0},{"A":56,"B":56,"v":50.5},{"A":60,"B":56,"v":50.1},{"A":64,"B":56,"v":49.7},{"A":68,"B":56,"v":49.3},{"A":72,"B":56,"v":49.0},{"A":76,"B":56,"v":48.7},{"A":80,"B":56,"v":48.4},{"A":84,"B":56,"v":48.2},{"A":88,"B":56,"v":48.0},{"A":92,"B":56,"v":47.9},{"A":96,"B":56,"v":47.7},{"A":100,"B":56,"v":47.6},{"A":104,"B":56,"v":47.6},{"A":108,"B":56,"v":47.6},{"A":112,"B":56,"v":47.6},{"A":116,"B":56,"v":47.6},{"A":120,"B":56,"v":47.7},{"A":124,"B":56,"v":47.8},{"A":128,"B":56,"v":48.0},{"A":132,"B":56,"v":48.2},{"A":136,"B":56,"v":48.4},{"A":140,"B":56,"v":48.7},{"A":144,"B":56,"v":49.0},{"A":148,"B":56,"v":49.3},{"A":152,"B":56,"v":49.6},{"A":156,"B":56,"v":50.0},{"A":160,"B":56,"v":50.5},{"A":164,"B":56,"v":50.9},{"A":168,"B":56,"v":51.4},{"A":172,"B":56,"v":52.0},{"A":176,"B":56,"v":52.5},
{"A":20,"B":57,"v":55.7},{"A":24,"B":57,"v":54.9},{"A":28,"B":57,"v":54.2},{"A":32,"B":57,"v":53.6},{"A":36,"B":57,"v":52.9},{"A":40,"B":57,"v":52.3},{"A":44,"B":57,"v":51.7},{"A":48,"B":57,"v":51.2},{"A":52,"B":57,"v":50.7},{"A":56,"B":57,"v":50.3},{"A":60,"B":57,"v":49.8},{"A":64,"B":57,"v":49.4},{"A":68,"B":57,"v":49.1},{"A":72,"B":57,"v":48.7},{"A":76,"B":57,"v":48.4},{"A":80,"B":57,"v":48.2},{"A":84,"B":57,"v":48.0},{"A":88,"B":57,"v":47.8},{"A":92,"B":57,"v":47.6},{"A":96,"B":57,"v":47.5},{"A":100,"B":57,"v":47.4},{"A":104,"B":57,"v":47.4},{"A":108,"B":57,"v":47.4},{"A":112,"B":57,"v":47.4},{"A":116,"B":57,"v":47.4},{"A":120,"B":57,"v":47.5},{"A":124,"B":57,"v":47.6},{"A":128,"B":57,"v":47.8},{"A":132,"B":57,"v":48.0},{"A":136,"B":57,"v":48.2},{"A":140,"B":57,"v":48.5},{"A":144,"B":57,"v":48.8},{"A":148,"B":57,"v":49.1},{"A":152,"B":57,"v":49.5},{"A":156,"B":57,"v":49.9},{"A":160,"B":57,"v":50.3},{"A":164,"B":57,"v":50.8},{"A":168,"B":57,"v":51.3},{"A":172,"B":57,"v":51.8},{"A":176,"B":57,"v":52.4},
{"A":20,"B":58,"v":55.4},{"A":24,"B":58,"v":54.7},{"A":28,"B":58,"v":54.0},{"A":32,"B":58,"v":53.3},{"A":36,"B":58,"v":52.7},{"A":40,"B":58,"v":52.1},{"A":44,"B":58,"v":51.5},{"A":48,"B":58,"v":51.0},{"A":52,"B":58,"v":50.5},{"A":56,"B":58,"v":50.0},{"A":60,"B":58,"v":49.6},{"A":64,"B":58,"v":49.2},{"A":68,"B":58,"v":48.8},{"A":72,"B":58,"v":48.5},{"A":76,"B":58,"v":48.2},{"A":80,"B":58,"v":48.0},{"A":84,"B":58,"v":47.8},{"A":88,"B":58,"v":47.6},{"A":92,"B":58,"v":47.4},{"A":96,"B":58,"v":47.3},{"A":100,"B":58,"v":47.2},{"A":104,"B":58,"v":47.2},{"A":108,"B":58,"v":47.2},{"A":112,"B":58,"v":47.2},{"A":116,"B":58,"v":47.3},{"A":120,"B":58,"v":47.4},{"A":124,"B":58,"v":47.5},{"A":128,"B":58,"v":47.6},{"A":132,"B":58,"v":47.8},{"A":136,"B":58,"v":48.1},{"A":140,"B":58,"v":48.3},{"A":144,"B":58,"v":48.6},{"A":148,"B":58,"v":49.0},{"A":152,"B":58,"v":49.3},{"A":156,"B":58,"v":49.8},{"A":160,"B":58,"v":50.2},{"A":164,"B":58,"v":50.7},{"A":168,"B":58,"v":51.2},{"A":172,"B":58,"v":51.7},{"A":176,"B":58,"v":52.3},
{"A":20,"B":59,"v":55.1},{"A":24,"B":59,"v":54.4},{"A":28,"B":59,"v":53.7},{"A":32,"B":59,"v":53.0},{"A":36,"B":59,"v":52.4},{"A":40,"B":59,"v":51.8},{"A":44,"B":59,"v":51.2},{"A":48,"B":59,"v":50.7},{"A":52,"B":59,"v":50.2},{"A":56,"B":59,"v":49.8},{"A":60,"B":59,"v":49.4},{"A":64,"B":59,"v":49.0},{"A":68,"B":59,"v":48.6},{"A":72,"B":59,"v":48.3},{"A":76,"B":59,"v":48.0},{"A":80,"B":59,"v":47.8},{"A":84,"B":59,"v":47.6},{"A":88,"B":59,"v":47.4},{"A":92,"B":59,"v":47.2},{"A":96,"B":59,"v":47.1},{"A":100,"B":59,"v":47.1},{"A":104,"B":59,"v":47.0},{"A":108,"B":59,"v":47.0},{"A":112,"B":59,"v":47.0},{"A":116,"B":59,"v":47.1},{"A":120,"B":59,"v":47.2},{"A":124,"B":59,"v":47.3},{"A":128,"B":59,"v":47.5},{"A":132,"B":59,"v":47.7},{"A":136,"B":59,"v":47.9},{"A":140,"B":59,"v":48.2},{"A":144,"B":59,"v":48.5},{"A":148,"B":59,"v":48.9},{"A":152,"B":59,"v":49.2},{"A":156,"B":59,"v":49.7},{"A":160,"B":59,"v":50.1},{"A":164,"B":59,"v":50.6},{"A":168,"B":59,"v":51.1},{"A":172,"B":59,"v":51.6},{"A":176,"B":59,"v":52.2}
],
"lines": [
{"c":"48.1","i":0,"A":75.35,"B":60},{"c":"48.1","i":1,"A":76,"B":59.77},{"c":"48.1","i":2,"A":78,"B":59.09},{"c":"48.1","i":3,"A":80,"B":58.47},{"c":"48.1","i":4,"A":84,"B":57.40},{"c":"48.1","i":5,"A":92,"B":55.78},{"c":"48.1","i":6,"A":100,"B":54.76},{"c":"48.1","i":7,"A":108,"B":54.26},{"c":"48.1","i":8,"A":116,"B":54.29},{"c":"48.1","i":9,"A":124,"B":54.92},{"c":"48.1","i":10,"A":132,"B":56.36},{"c":"48.1","i":11,"A":136,"B":57.54},{"c":"48.1","i":12,"A":139.2,"B":58.85},{"c":"48.1","i":13,"A":140,"B":59.26},{"c":"48.1","i":14,"A":141.28,"B":60},
{"c":"50","i":0,"A":54.99,"B":60},{"c":"50","i":1,"A":56,"B":59.48},{"c":"50","i":2,"A":60,"B":57.64},{"c":"50","i":3,"A":68,"B":54.71},{"c":"50","i":4,"A":76,"B":52.50},{"c":"50","i":5,"A":84,"B":50.80},{"c":"50","i":6,"A":92,"B":49.54},{"c":"50","i":7,"A":100,"B":48.66},{"c":"50","i":8,"A":108,"B":48.14},{"c":"50","i":9,"A":116,"B":47.99},{"c":"50","i":10,"A":124,"B":48.24},{"c":"50","i":11,"A":132,"B":48.93},{"c":"50","i":12,"A":140,"B":50.16},{"c":"50","i":13,"A":148,"B":52.14},{"c":"50","i":14,"A":156,"B":55.44},{"c":"50","i":15,"A":158.4,"B":56.94},{"c":"50","i":16,"A":160,"B":58.23},{"c":"50","i":17,"A":161.65,"B":60},
{"c":"55","i":0,"A":21.9,"B":60},{"c":"55","i":1,"A":24,"B":58.56},{"c":"55","i":2,"A":28,"B":56.15},{"c":"55","i":3,"A":36,"B":52.21},{"c":"55","i":4,"A":44,"B":49.06},{"c":"55","i":5,"A":52,"B":46.45},{"c":"55","i":6,"A":60,"B":44.26},{"c":"55","i":7,"A":68,"B":42.42},{"c":"55","i":8,"A":76,"B":40.89},{"c":"55","i":9,"A":84,"B":39.63},{"c":"55","i":10,"A":92,"B":38.62},{"c":"55","i":11,"A":100,"B":37.85},{"c":"55","i":12,"A":108,"B":37.33},{"c":"55","i":13,"A":116,"B":37.04},{"c":"55","i":14,"A":124,"B":37.00},{"c":"55","i":15,"A":132,"B":37.22},{"c":"55","i":16,"A":140,"B":37.71},{"c":"55","i":17,"A":148,"B":38.52},{"c":"55","i":18,"A":156,"B":39.68},{"c":"55","i":19,"A":164,"B":41.28},{"c":"55","i":20,"A":172,"B":43.46},{"c":"55","i":21,"A":180,"B":46.47},
{"c":"60a","i":0,"A":20,"B":47.53},{"c":"60a","i":1,"A":28,"B":44.39},{"c":"60a","i":2,"A":36,"B":41.69},{"c":"60a","i":3,"A":44,"B":39.34},{"c":"60a","i":4,"A":52,"B":37.30},{"c":"60a","i":5,"A":60,"B":35.52},{"c":"60a","i":6,"A":68,"B":33.99},{"c":"60a","i":7,"A":76,"B":32.67},{"c":"60a","i":8,"A":84,"B":31.56},{"c":"60a","i":9,"A":92,"B":30.65},{"c":"60a","i":10,"A":99.1,"B":30},
{"c":"60b","i":0,"A":151.46,"B":30},{"c":"60b","i":1,"A":156,"B":30.45},{"c":"60b","i":2,"A":164,"B":31.44},{"c":"60b","i":3,"A":172,"B":32.75},{"c":"60b","i":4,"A":180,"B":34.44},
{"c":"65","i":0,"A":20,"B":38.66},{"c":"65","i":1,"A":28,"B":36.12},{"c":"65","i":2,"A":36,"B":33.87},{"c":"65","i":3,"A":44,"B":31.86},{"c":"65","i":4,"A":48,"B":30.95},{"c":"65","i":5,"A":52.41,"B":30},
{"c":"70","i":0,"A":20,"B":31.59},{"c":"70","i":1,"A":22.4,"B":30.88},{"c":"70","i":2,"A":25.6,"B":30}
],
"labels": [
{"t":"48.1","A":108.1,"B":54.62},
{"t":"50.0","A":106.1,"B":48.65},
{"t":"55.0","A":81.3,"B":40.53},
{"t":"60.0","A":50.6,"B":38.2},
{"t":"65.0","A":35.0,"B":34.78},
{"t":"70.0","A":25.7,"B":30.75},
{"t":"60.0","A":168.2,"B":32.73}
]
},
"encoding": {
  "x": {"field": "A", "type": "quantitative", "scale": {"domain": [20, 180], "nice": false, "zero": false},
        "axis": {"title": "A: Time, min", "values": [20, 60, 100, 140, 180], "tickSize": 10.5, "titleBaseline": "alphabetic", "titleY": 84}},
  "y": {"field": "B", "type": "quantitative", "scale": {"domain": [30, 60], "nice": false, "zero": false},
        "axis": {"title": "B: Temperature, deg C", "values": [30, 37.5, 45, 52.5, 60], "tickSize": 13, "titleAngle": -90, "titleBaseline": "alphabetic", "titleAlign": "center", "titleX": -77, "titleY": 197}}
},
"layer": [
{
  "data": {"name": "grid"},
  "mark": {"type": "rect", "strokeWidth": 0.5},
  "encoding": {
    "x": {"field": "A", "type": "quantitative", "bin": {"binned": true, "step": 4},
          "scale": {"domain": [20, 180], "nice": false, "zero": false},
          "axis": {"title": "A: Time, min", "values": [20, 60, 100, 140, 180], "tickSize": 10.5, "titleBaseline": "alphabetic", "titleY": 84}},
    "y": {"field": "B", "type": "quantitative", "bin": {"binned": true, "step": 1},
          "scale": {"domain": [30, 60], "nice": false, "zero": false},
          "axis": {"title": "B: Temperature, deg C", "values": [30, 37.5, 45, 52.5, 60], "tickSize": 13, "titleAngle": -90, "titleBaseline": "alphabetic", "titleAlign": "center", "titleX": -77, "titleY": 197}},
    "fill": {"field": "v", "type": "quantitative", "legend": null,
             "scale": {"type": "linear", "domain": [47, 48, 50, 55, 60, 63, 70], "range": ["#565656", "#5c5c5c", "#6a6a6a", "#909090", "#b9b9b9", "#c0c0c0", "#bdbdbd"]}},
    "stroke": {"field": "v", "type": "quantitative", "legend": null,
             "scale": {"type": "linear", "domain": [47, 48, 50, 55, 60, 63, 70], "range": ["#565656", "#5c5c5c", "#6a6a6a", "#909090", "#b9b9b9", "#c0c0c0", "#bdbdbd"]}}
  }
},
{
  "data": {"name": "lines"},
  "mark": {"type": "line", "interpolate": "catmull-rom", "stroke": "black", "strokeWidth": 0.9, "clip": true},
  "encoding": {
    "detail": {"field": "c", "type": "nominal"},
    "order": {"field": "i", "type": "quantitative"}
  }
},
{
  "data": {"name": "labels"},
  "mark": {"type": "point", "shape": "M-1,-0.43H1V0.43H-1Z", "filled": true, "fill": "white", "stroke": "black", "strokeWidth": 1, "size": 1225, "opacity": 1, "fillOpacity": 1, "strokeOpacity": 1}
},
{
  "data": {"name": "labels"},
  "mark": {"type": "text", "font": "Liberation Sans", "fontSize": 14.5, "color": "black", "align": "center", "baseline": "middle", "dy": 1},
  "encoding": {
    "text": {"field": "t", "type": "nominal"}
  }
}
]
}
